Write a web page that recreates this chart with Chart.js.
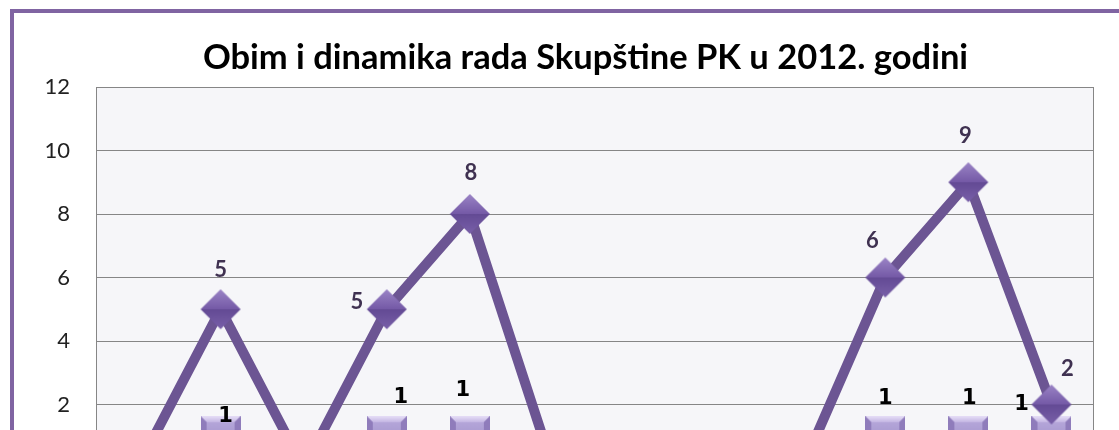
<!DOCTYPE html>
<html>
<head>
<meta charset="utf-8">
<script src="https://cdn.jsdelivr.net/npm/chart.js@4/dist/chart.umd.min.js"></script>
<style>
  html, body { margin: 0; padding: 0; background: #fff; overflow: hidden; }
  #frame {
    position: absolute; left: 10px; top: 9px;
    width: 1200px; height: 560px;
    border: 4px solid #8064a2; background: #fff;
  }
</style>
</head>
<body>
<div id="frame"><canvas id="chart" width="1200" height="560"></canvas></div>
<script>
// months of 2012
const months = ["Siječanj", "Veljača", "Ožujak", "Travanj", "Svibanj", "Lipanj",
  "Srpanj", "Kolovoz", "Rujan", "Listopad", "Studeni", "Prosinac"];
// agenda items per month (diamonds)
const items = [0, 5, 0, 5, 8, 0, 0, 0, 0, 6, 9, 2];
// sessions per month (squares)
const sessions = [0, 1, 0, 1, 1, 0, 0, 0, 0, 1, 1, 1];
const yTicks = [0, 2, 4, 6, 8, 10, 12];

// label nudges, same as the hand-placed labels in the original
const itemShift = { 1: [0, -39], 3: [-30, -7], 4: [1, -41], 9: [-13, -37], 10: [-3, -46], 11: [16, -36] };
const sessionShift = { 1: [5, -20], 3: [14, -39], 4: [-7, -46], 9: [0, -38], 10: [1, -38], 11: [-30, -32] };

// diamond marker drawn once, used as point style
function makeDiamond(r) {
  const c = document.createElement("canvas");
  c.width = c.height = r * 2 + 2;
  const g = c.getContext("2d");
  const m = r + 1;
  let top = g.createLinearGradient(0, 1, 0, m);
  top.addColorStop(0, "#9b84c6");
  top.addColorStop(1, "#7459a6");
  g.fillStyle = top;
  g.beginPath(); g.moveTo(1, m); g.lineTo(m, 1); g.lineTo(m * 2 - 1, m); g.closePath(); g.fill();
  let bot = g.createLinearGradient(0, m, 0, m * 2);
  bot.addColorStop(0, "#634a94");
  bot.addColorStop(1, "#7a61aa");
  g.fillStyle = bot;
  g.beginPath(); g.moveTo(1, m); g.lineTo(m, m * 2 - 1); g.lineTo(m * 2 - 1, m); g.closePath(); g.fill();
  return c;
}

// bevelled square marker
function makeSquare(h) {
  const s = h * 2;
  const c = document.createElement("canvas");
  c.width = c.height = s;
  const g = c.getContext("2d");
  const b = 6;
  g.fillStyle = "#a595cc";
  g.fillRect(0, 0, s, s);
  let tg = g.createLinearGradient(0, 0, 0, b);
  tg.addColorStop(0, "#e6def7");
  tg.addColorStop(1, "#c3b5e3");
  g.fillStyle = tg;
  g.beginPath(); g.moveTo(0, 0); g.lineTo(s, 0); g.lineTo(s - b, b); g.lineTo(b, b); g.closePath(); g.fill();
  g.fillStyle = "#8f7cbb";
  g.beginPath(); g.moveTo(0, 0); g.lineTo(b, b); g.lineTo(b, s - b); g.lineTo(0, s); g.closePath(); g.fill();
  g.beginPath(); g.moveTo(s, 0); g.lineTo(s - b, b); g.lineTo(s - b, s - b); g.lineTo(s, s); g.closePath(); g.fill();
  let cg = g.createLinearGradient(0, b, 0, s - b);
  cg.addColorStop(0, "#b4a6d9");
  cg.addColorStop(1, "#9c8bc6");
  g.fillStyle = cg;
  g.fillRect(b, b, s - 2 * b, s - 2 * b);
  g.fillStyle = "#7d6aa9";
  g.beginPath(); g.moveTo(0, s); g.lineTo(b, s - b); g.lineTo(s - b, s - b); g.lineTo(s, s); g.closePath(); g.fill();
  return c;
}

const plotArea = {
  id: "plotArea",
  beforeDraw(chart) {
    const { ctx, chartArea: a } = chart;
    ctx.save();
    ctx.fillStyle = "#f6f6f9";
    ctx.fillRect(a.left, a.top, a.right - a.left, a.bottom - a.top);
    ctx.restore();
  },
  beforeDatasetsDraw(chart) {
    const { ctx, chartArea: a } = chart;
    ctx.save();
    ctx.strokeStyle = "#868686";
    ctx.lineWidth = 1;
    ctx.strokeRect(Math.round(a.left) + 0.5, Math.round(a.top) + 0.5,
      Math.round(a.right - a.left), Math.round(a.bottom - a.top));
    ctx.restore();
  }
};

const valueLabels = {
  id: "valueLabels",
  afterDatasetsDraw(chart) {
    const ctx = chart.ctx;
    ctx.save();
    ctx.textAlign = "center";
    ctx.textBaseline = "middle";
    chart.data.datasets.forEach((ds, di) => {
      const meta = chart.getDatasetMeta(di);
      const isItems = di === 0;
      const shift = isItems ? itemShift : sessionShift;
      ctx.fillStyle = isItems ? "#3f3151" : "#000";
      ctx.font = isItems ? "bold 22px Lato" : "bold 21px 'DejaVu Sans'";
      meta.data.forEach((el, i) => {
        if (!ds.data[i]) return;
        const s = shift[i] || [0, -30];
        ctx.fillText(String(ds.data[i]), el.x + s[0], el.y + s[1]);
      });
    });
    ctx.restore();
  }
};

new Chart(document.getElementById("chart"), {
  type: "line",
  data: {
    labels: months,
    datasets: [
      {
        label: "Broj točaka dnevnog reda",
        data: items,
        borderColor: "#6c5593",
        borderWidth: 10,
        tension: 0,
        pointStyle: makeDiamond(20),
        order: 1
      },
      {
        label: "Broj sjednica",
        data: sessions,
        borderColor: "#a999cc",
        borderWidth: 6,
        tension: 0,
        pointStyle: makeSquare(20),
        order: 2
      }
    ]
  },
  options: {
    responsive: false,
    animation: false,
    layout: { padding: { left: 0, right: 57, top: 0, bottom: 65 } },
    plugins: {
      legend: { display: false },
      tooltip: { enabled: false },
      title: {
        display: true,
        text: "Obim i dinamika rada Skupštine PK u 2012. godini",
        font: { family: "Lato", size: 34.5, weight: "bold" },
        color: "#000",
        padding: { top: 24, bottom: 8.6 }
      }
    },
    scales: {
      x: {
        offset: true,
        grid: { display: false },
        border: { color: "#868686" },
        ticks: { font: { family: "Lato", size: 20 }, color: "#222" },
        afterFit(s) { s.height = 40; }
      },
      y: {
        min: 0,
        max: 12,
        afterBuildTicks(s) { s.ticks = yTicks.map(v => ({ value: v })); },
        grid: { color: "#868686", drawTicks: false },
        border: { color: "#868686" },
        ticks: { font: { family: "Lato", size: 22 }, color: "#222", padding: 26 },
        afterFit(s) { s.width = 82; }
      },
      // empty right-hand strip of the chart object
      yRight: {
        position: "right",
        grid: { display: false },
        border: { display: false },
        ticks: { display: false },
        afterFit(s) { s.width = 64; }
      }
    }
  },
  plugins: [plotArea, valueLabels]
});
</script>
</body>
</html>
